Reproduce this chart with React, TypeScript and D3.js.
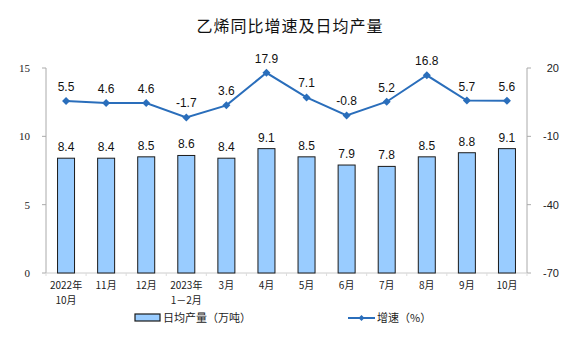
import React from "react";
import * as d3 from "d3";

const categories = ["2022年\n10月", "11月", "12月", "2023年\n1－2月", "3月", "4月", "5月", "6月", "7月", "8月", "9月", "10月"];
const output = [8.4, 8.4, 8.5, 8.6, 8.4, 9.1, 8.5, 7.9, 7.8, 8.5, 8.8, 9.1];
const growth = [5.5, 4.6, 4.6, -1.7, 3.6, 17.9, 7.1, -0.8, 5.2, 16.8, 5.7, 5.6];
const leftTicks = [0, 5, 10, 15];
const rightTicks = [-70, -40, -10, 20];

export default function App() {
  const W = 576, H = 357;
  const x0 = 46, x1 = 527, yTop = 68, yBot = 273;
  const x = d3.scaleBand<number>().domain(d3.range(categories.length)).range([x0, x1]);
  const yL = d3.scaleLinear().domain([0, 15]).range([yBot, yTop]);
  const yR = d3.scaleLinear().domain([-70, 20]).range([yBot, yTop]);
  const cx = (i: number) => (x(i) as number) + x.bandwidth() / 2;
  const bw = 17;
  const line = d3.line<number>().x((_, i) => cx(i)).y((d) => yR(d));
  const sans = "'Liberation Sans', Arial, sans-serif";
  const cjk = "'Noto Sans CJK SC', sans-serif";
  const serif = "'Liberation Serif', 'Times New Roman', serif";
  return (
    <svg width={W} height={H} style={{ position: "absolute", left: 0, top: 0 }}>
      <rect width={W} height={H} fill="#fff" />
      <text x={290} y={32} textAnchor="middle" fontFamily={cjk} fontSize={16} fill="#111" letterSpacing={1}>乙烯同比增速及日均产量</text>
      {/* axes */}
      <line x1={x0} x2={x0} y1={yTop} y2={yBot} stroke="#aaa" />
      <line x1={x1} x2={x1} y1={yTop} y2={yBot} stroke="#aaa" />
      <line x1={x0} x2={x1} y1={yBot} y2={yBot} stroke="#ccc" />
      {leftTicks.map((t) => (
        <g key={"l" + t}>
          <line x1={x0 - 4} x2={x0} y1={yL(t)} y2={yL(t)} stroke="#aaa" />
          <text x={x0 - 16} y={yL(t) + 4} textAnchor="end" fontFamily={serif} fontSize={11} fill="#222">{t}</text>
        </g>
      ))}
      {rightTicks.map((t) => (
        <g key={"r" + t}>
          <line x1={x1} x2={x1 + 4} y1={yR(t)} y2={yR(t)} stroke="#aaa" />
          <text x={x1 + 32} y={yR(t) + 4} textAnchor="end" fontFamily={sans} fontSize={11} fill="#222">{t}</text>
        </g>
      ))}
      {d3.range(categories.length + 1).map((i) => {
        const px = i < categories.length ? (x(i) as number) : x1;
        return <line key={"xt" + i} x1={px} x2={px} y1={yBot} y2={yBot + 3} stroke="#ddd" />;
      })}
      {/* bars */}
      {output.map((v, i) => (
        <g key={"b" + i}>
          <rect x={cx(i) - bw / 2} y={yL(v)} width={bw} height={yBot - yL(v)} fill="#99ccff" stroke="#1a1a1a" strokeWidth={1} />
          <text x={cx(i)} y={yL(v) - 7} textAnchor="middle" fontFamily={sans} fontSize={12} fill="#111">{v.toFixed(1)}</text>
        </g>
      ))}
      {/* line */}
      <path d={line(growth) || ""} fill="none" stroke="#2a6ebb" strokeWidth={2} />
      {growth.map((v, i) => (
        <g key={"p" + i}>
          <path d={`M${cx(i)},${yR(v) - 4}L${cx(i) + 4},${yR(v)}L${cx(i)},${yR(v) + 4}L${cx(i) - 4},${yR(v)}Z`} fill="#2a6ebb" />
          <text x={cx(i)} y={yR(v) - 10} textAnchor="middle" fontFamily={sans} fontSize={12} fill="#111">{v.toFixed(1)}</text>
        </g>
      ))}
      {/* category labels */}
      {categories.map((c, i) => (
        <text key={"c" + i} x={cx(i)} y={yBot + 16} textAnchor="middle" fontFamily={cjk} fontSize={10} fill="#222">
          {c.split("\n").map((s, j) => (
            <tspan key={j} x={cx(i)} dy={j === 0 ? 0 : 15}>{s}</tspan>
          ))}
        </text>
      ))}
      {/* legend */}
      <rect x={135} y={314} width={25} height={7} fill="#99ccff" stroke="#1a1a1a" strokeWidth={1.2} />
      <text x={163} y={322} fontFamily={cjk} fontSize={11} fill="#222">日均产量（万吨）</text>
      <line x1={348} x2={375} y1={318} y2={318} stroke="#2a6ebb" strokeWidth={2} />
      <path d="M361.5,315L364.5,318L361.5,321L358.5,318Z" fill="#2a6ebb" />
      <text x={377} y={322} fontFamily={cjk} fontSize={11} fill="#222">增速（%）</text>
    </svg>
  );
}
